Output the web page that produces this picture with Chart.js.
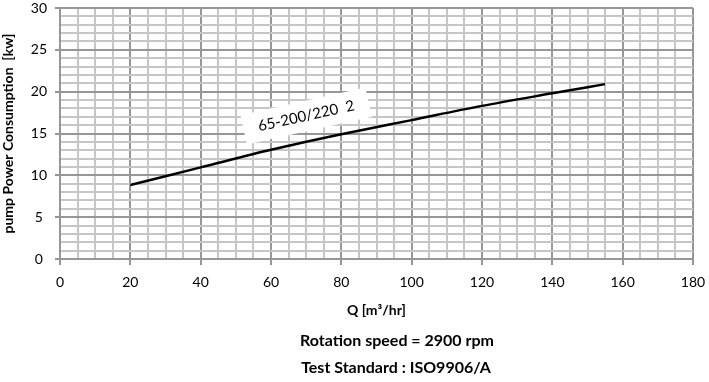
<!DOCTYPE html>
<html>
<head>
<meta charset="utf-8">
<script src="https://cdn.jsdelivr.net/npm/chart.js@4.4.0/dist/chart.umd.min.js"></script>
<style>
  html, body { margin: 0; padding: 0; background: #fff; }
  #wrap { position: relative; width: 709px; height: 382px; }
</style>
</head>
<body>
<div id="wrap"><canvas id="c"></canvas></div>
<script>
// Data
const flowQ = [20, 40, 60, 80, 100, 120, 140, 155];
const powerKw = [8.85, 10.95, 13.05, 14.9, 16.6, 18.3, 19.8, 20.9];
const curveLabel = '65-200/220  2';
const xTitle = 'Q [m\u00B3/hr]';
const yTitle = 'pump Power Consumption  [kw]';
const footerLines = ['Rotation speed = 2900 rpm', 'Test Standard : ISO9906/A'];
const xMajor = 20, xMinor = 5, yMajor = 5, yMinor = 1;

const MAJOR = '#979797', MINOR = '#c6c6c6';
const FONT = 'Lato, "Open Sans", sans-serif';

const points = flowQ.map((q, i) => ({ x: q, y: powerKw[i] }));

const annot = {
  id: 'annot',
  afterDatasetsDraw(chart) {
    const ctx = chart.ctx;
    const xs = chart.scales.x, ys = chart.scales.y;
    const cx = xs.getPixelForValue(70), cy = ys.getPixelForValue(17.1);
    ctx.save();
    ctx.translate(cx, cy);
    ctx.rotate(-12.5 * Math.PI / 180);
    ctx.fillStyle = '#fff';
    ctx.fillRect(-64, -15, 128, 30);
    ctx.fillStyle = '#000';
    ctx.font = '15px ' + FONT;
    ctx.textAlign = 'center';
    ctx.textBaseline = 'middle';
    ctx.fillText(curveLabel, 0, 0);
    ctx.restore();
  },
  afterDraw(chart) {
    const ctx = chart.ctx;
    ctx.save();
    ctx.fillStyle = '#000';
    ctx.font = 'bold 16px ' + FONT;
    ctx.textAlign = 'center';
    ctx.textBaseline = 'middle';
    ctx.fillText(footerLines[0], 397, 341);
    ctx.fillText(footerLines[1], 396, 368);
    ctx.restore();
  }
};

new Chart(document.getElementById('c'), {
  type: 'scatter',
  data: {
    datasets: [{
      data: points,
      showLine: true,
      borderColor: '#000',
      borderWidth: 2.5,
      pointRadius: 0,
      tension: 0.4,
      cubicInterpolationMode: 'monotone',
      fill: false
    }]
  },
  options: {
    responsive: true,
    maintainAspectRatio: false,
    animation: false,
    layout: { padding: { left: 0, right: 16, top: 8, bottom: 0 } },
    plugins: { legend: { display: false }, tooltip: { enabled: false } },
    scales: {
      x: {
        type: 'linear', min: 0, max: 180,
        afterFit: s => { s.height = 123; s.paddingLeft = 0; s.paddingRight = 0; },
        afterBuildTicks: s => {
          const t = [];
          for (let v = 0; v <= 180; v += xMinor) t.push({ value: v });
          s.ticks = t;
        },
        ticks: {
          autoSkip: false, maxRotation: 0, padding: 9,
          color: '#000', font: { family: FONT, size: 14 },
          callback: v => (v % xMajor === 0 ? String(v) : '')
        },
        grid: {
          color: c => (c.tick && c.tick.value % xMajor === 0 ? MAJOR : MINOR),
          tickColor: c => (c.tick && c.tick.value % xMajor === 0 ? MAJOR : 'rgba(0,0,0,0)'),
          lineWidth: 2, tickLength: 6, drawTicks: true
        },
        border: { display: true, color: MAJOR, width: 2 },
        title: {
          display: true, text: xTitle, color: '#000',
          font: { family: FONT, size: 14, weight: 'bold' },
          padding: { top: 0, bottom: 63 }
        }
      },
      y: {
        type: 'linear', min: 0, max: 30,
        afterFit: s => { s.width = 60; s.paddingTop = 0; s.paddingBottom = 0; },
        afterBuildTicks: s => {
          const t = [];
          for (let v = 0; v <= 30; v += yMinor) t.push({ value: v });
          s.ticks = t;
        },
        ticks: {
          autoSkip: false, padding: 8, crossAlign: 'center',
          color: '#000', font: { family: FONT, size: 14 },
          callback: v => (v % yMajor === 0 ? String(v) : '')
        },
        grid: {
          color: c => (c.tick && c.tick.value % yMajor === 0 ? MAJOR : MINOR),
          tickColor: c => (c.tick && c.tick.value % yMajor === 0 ? MAJOR : 'rgba(0,0,0,0)'),
          lineWidth: 2, tickLength: 5, drawTicks: true
        },
        border: { display: true, color: MAJOR, width: 2 },
        title: {
          display: true, text: yTitle, color: '#000',
          font: { family: FONT, size: 14, weight: 'bold' },
          padding: { top: 0, bottom: 0 }
        }
      }
    }
  },
  plugins: [annot]
});
</script>
</body>
</html>
